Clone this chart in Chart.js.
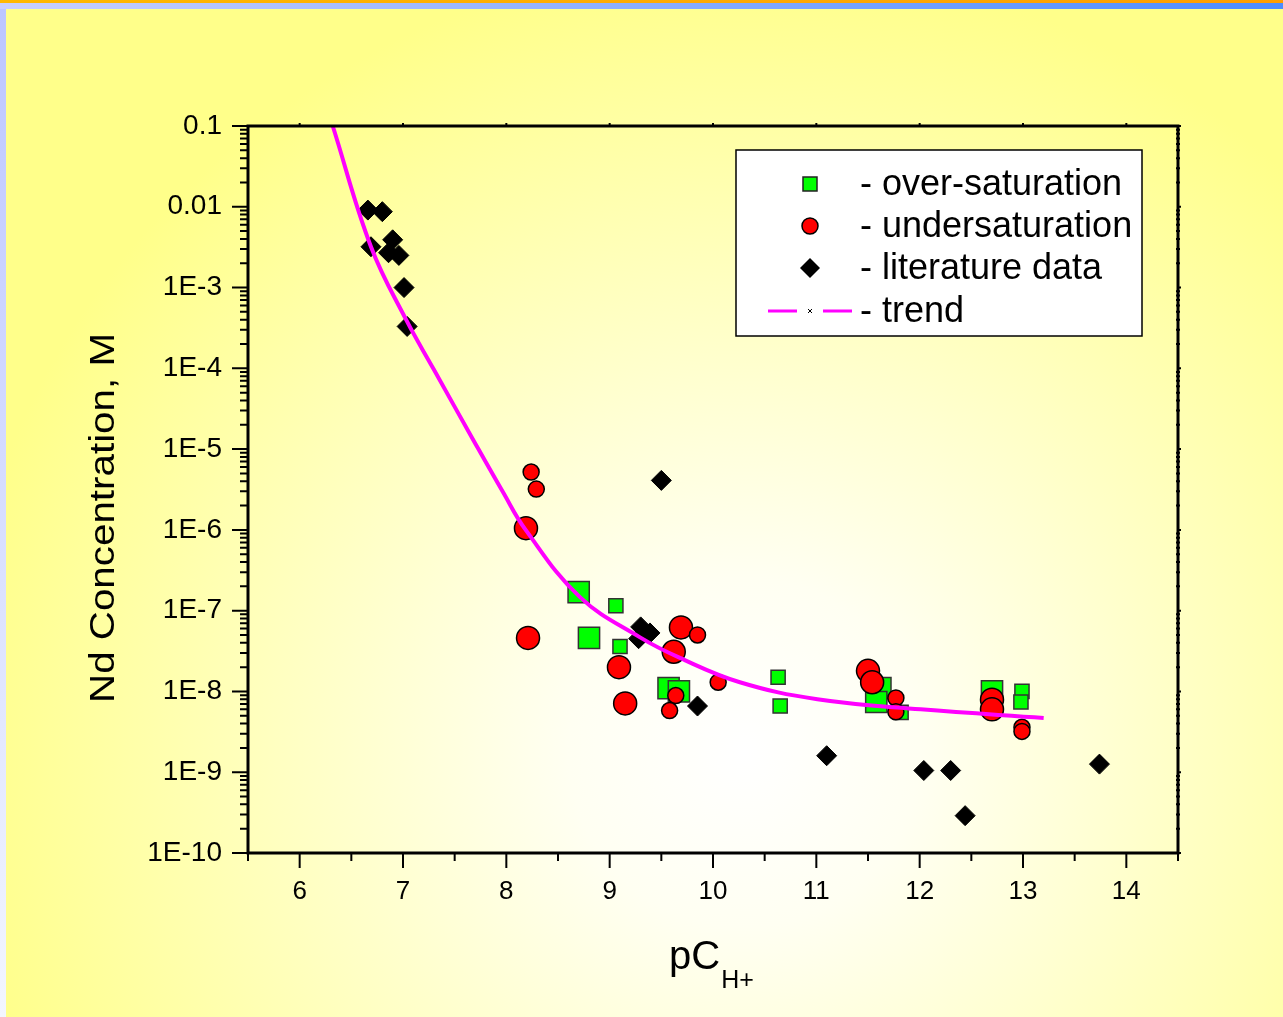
<!DOCTYPE html>
<html>
<head>
<meta charset="utf-8">
<script src="https://cdn.jsdelivr.net/npm/chart.js@4.4.1/dist/chart.umd.min.js"></script>
<style>
    html, body { margin: 0; padding: 0; }
    body {
        width: 1283px; height: 1017px; overflow: hidden; position: relative;
        background: radial-gradient(ellipse 62% 78% at 58% 74%, #ffffff 0%, #fffff2 22%, #ffffc6 55%, #ffff8a 100%);
    }
    #topOrange { position: absolute; left: 0; top: 0; width: 1283px; height: 3px; background: linear-gradient(90deg, #ffb800, #ff9e00); }
    #topBlue { position: absolute; left: 0; top: 3px; width: 1283px; height: 6px; background: linear-gradient(90deg, #c8d0ff, #4c8cff); }
    #leftStrip { position: absolute; left: 0; top: 9px; width: 6px; height: 1008px; background: linear-gradient(180deg, #bcc6ff, #f3f6ff); }
    #wrap { position: absolute; left: 0; top: 0; width: 1283px; height: 1017px; }
</style>
</head>
<body>
<div id="topOrange"></div>
<div id="topBlue"></div>
<div id="leftStrip"></div>
<div id="wrap"><canvas id="ndChart" width="1283" height="1017"></canvas></div>
<script>
    // axis ticks
    const xTickValues = [6, 7, 8, 9, 10, 11, 12, 13, 14];
    const yTickValues = [1e-10, 1e-9, 1e-8, 1e-7, 1e-6, 1e-5, 1e-4, 1e-3, 0.01, 0.1];
    const yTickLabels = ['1E-10', '1E-9', '1E-8', '1E-7', '1E-6', '1E-5', '1E-4', '1E-3', '0.01', '0.1'];

    // over-saturation (small and large markers)
    const overSatX = [9.06, 9.10, 10.63, 10.65, 11.82, 12.99, 12.98];
    const overSatY = [1.15e-7, 3.6e-8, 1.5e-8, 6.6e-9, 5.5e-9, 1.0e-8, 7.4e-9];
    const overSatBigX = [8.70, 8.80, 9.57, 9.67, 11.62, 11.58, 12.70];
    const overSatBigY = [1.7e-7, 4.6e-8, 1.1e-8, 1.0e-8, 1.1e-8, 7.4e-9, 1.0e-8];

    // undersaturation
    const underSatX = [8.24, 8.29, 9.85, 9.64, 9.58, 10.05, 11.77, 11.77, 12.99, 12.99];
    const underSatY = [5.2e-6, 3.2e-6, 5.0e-8, 8.9e-9, 5.8e-9, 1.3e-8, 8.3e-9, 5.6e-9, 3.6e-9, 3.2e-9];
    const underSatBigX = [8.19, 8.21, 9.69, 9.62, 9.09, 9.15, 11.50, 11.54, 12.70, 12.70];
    const underSatBigY = [1.05e-6, 4.6e-8, 6.2e-8, 3.1e-8, 2.0e-8, 7.1e-9, 1.8e-8, 1.3e-8, 7.9e-9, 6.0e-9];

    // literature data
    const litX = [6.66, 6.80, 6.69, 6.90, 6.86, 6.96, 7.01, 7.04, 9.50, 9.30, 9.39, 9.28, 9.85, 11.10, 12.04, 12.30, 12.44, 13.74];
    const litY = [9.1e-3, 8.7e-3, 3.2e-3, 3.9e-3, 2.7e-3, 2.5e-3, 1.0e-3, 3.3e-4, 4.1e-6, 6.3e-8, 5.3e-8, 4.5e-8, 6.6e-9, 1.6e-9, 1.05e-9, 1.05e-9, 2.9e-10, 1.26e-9];

    // trend curve
    const trendX = [6.32, 6.69, 7.03, 7.30, 7.68, 7.97, 8.18, 8.71, 9.29, 9.68, 10.26, 11.01, 12.01, 13.20];
    const trendY = [0.1, 3.2e-3, 4.0e-4, 9.6e-5, 1.3e-5, 2.9e-6, 1.03e-6, 1.48e-7, 4.7e-8, 2.6e-8, 1.3e-8, 8.0e-9, 6.0e-9, 4.7e-9];

    const legendLabels = ['- over-saturation', '- undersaturation', '- literature data', '- trend'];

    function toPoints(xs, ys) {
        return xs.map((x, i) => ({ x: x, y: ys[i] }));
    }

    const FONT = "'Liberation Sans', Arial, sans-serif";

    /* frame, tick marks, axis titles and legend */
    const decorPlugin = {
        id: 'decor',
        afterDraw(chart) {
            const ctx = chart.ctx;
            const a = chart.chartArea;
            const xs = chart.scales.x;
            const ys = chart.scales.y;
            ctx.save();
            ctx.strokeStyle = '#000';
            ctx.lineCap = 'butt';

            // ticks
            ctx.lineWidth = 2;
            ctx.beginPath();
            xTickValues.forEach((v) => {
                const px = xs.getPixelForValue(v);
                ctx.moveTo(px, a.bottom); ctx.lineTo(px, a.bottom + 15);
                ctx.moveTo(px, a.top); ctx.lineTo(px, a.top - 3);
            });
            xTickValues.concat([5]).forEach((v) => {
                const px = xs.getPixelForValue(v + 0.5);
                ctx.moveTo(px, a.bottom); ctx.lineTo(px, a.bottom + 8);
            });
            yTickValues.forEach((v, i) => {
                const py = ys.getPixelForValue(v);
                ctx.moveTo(a.left, py); ctx.lineTo(a.left - 16, py);
                ctx.moveTo(a.right, py); ctx.lineTo(a.right + 3, py);
                if (i < yTickValues.length - 1) {
                    for (let k = 2; k <= 9; k++) {
                        const pm = ys.getPixelForValue(v * k);
                        ctx.moveTo(a.left, pm); ctx.lineTo(a.left - 8, pm);
                        ctx.moveTo(a.right - 2, pm); ctx.lineTo(a.right + 2, pm);
                    }
                }
            });
            ctx.stroke();

            // frame
            ctx.lineWidth = 3;
            ctx.strokeRect(a.left, a.top, a.right - a.left, a.bottom - a.top);

            // y title, stretched like the original export
            ctx.fillStyle = '#000';
            ctx.save();
            ctx.translate(114, 518);
            ctx.rotate(-Math.PI / 2);
            ctx.font = '35px ' + FONT;
            const yTitle = 'Nd Concentration, M';
            const sx = 370 / ctx.measureText(yTitle).width;
            ctx.scale(sx, 1);
            ctx.textAlign = 'center';
            ctx.textBaseline = 'alphabetic';
            ctx.fillText(yTitle, 0, 0);
            ctx.restore();

            // x title pC with subscript H+
            ctx.font = '40px ' + FONT;
            ctx.textAlign = 'left';
            ctx.textBaseline = 'alphabetic';
            ctx.fillText('pC', 669, 969);
            const w = ctx.measureText('pC').width;
            ctx.font = '25px ' + FONT;
            ctx.fillText('H+', 669 + w + 1, 988);

            // legend
            const lx = 736, ly = 150, lw = 406, lh = 186;
            ctx.fillStyle = '#fff';
            ctx.fillRect(lx, ly, lw, lh);
            ctx.lineWidth = 1.5;
            ctx.strokeStyle = '#000';
            ctx.strokeRect(lx, ly, lw, lh);
            const rows = [184, 226, 268, 311];
            const mx = 810;
            // square
            ctx.fillStyle = '#00ff00';
            ctx.strokeStyle = '#222';
            ctx.lineWidth = 1.5;
            ctx.fillRect(mx - 7, rows[0] - 7, 14, 14);
            ctx.strokeRect(mx - 7, rows[0] - 7, 14, 14);
            // circle
            ctx.fillStyle = '#ff0000';
            ctx.strokeStyle = '#000';
            ctx.beginPath();
            ctx.arc(mx, rows[1], 8, 0, Math.PI * 2);
            ctx.fill(); ctx.stroke();
            // diamond
            ctx.fillStyle = '#000';
            ctx.beginPath();
            ctx.moveTo(mx - 10, rows[2]); ctx.lineTo(mx, rows[2] - 10);
            ctx.lineTo(mx + 10, rows[2]); ctx.lineTo(mx, rows[2] + 10);
            ctx.closePath(); ctx.fill();
            // trend sample
            ctx.strokeStyle = '#ff00ff';
            ctx.lineWidth = 3;
            ctx.beginPath();
            ctx.moveTo(768, rows[3]); ctx.lineTo(797, rows[3]);
            ctx.moveTo(823, rows[3]); ctx.lineTo(852, rows[3]);
            ctx.stroke();
            ctx.strokeStyle = '#000';
            ctx.lineWidth = 1;
            ctx.beginPath();
            ctx.moveTo(mx - 2, rows[3] - 2); ctx.lineTo(mx + 2, rows[3] + 2);
            ctx.moveTo(mx + 2, rows[3] - 2); ctx.lineTo(mx - 2, rows[3] + 2);
            ctx.stroke();

            ctx.fillStyle = '#000';
            ctx.font = '36px ' + FONT;
            ctx.textAlign = 'left';
            ctx.textBaseline = 'middle';
            legendLabels.forEach((t, i) => ctx.fillText(t, 860, rows[i] + 1));
            ctx.restore();
        }
    };

    const ctx = document.getElementById('ndChart').getContext('2d');
    const chart = new Chart(ctx, {
        type: 'scatter',
        data: {
            datasets: [{
                label: 'trend',
                data: toPoints(trendX, trendY),
                showLine: true,
                borderColor: '#ff00ff',
                borderWidth: 4,
                pointRadius: 0,
                tension: 0.4,
                fill: false,
                order: 0
            }, {
                label: 'literature data',
                data: toPoints(litX, litY),
                pointStyle: 'rectRot',
                pointRadius: 10,
                backgroundColor: '#000',
                borderColor: '#000',
                borderWidth: 1,
                order: 1
            }, {
                label: 'undersaturation',
                data: toPoints(underSatX, underSatY),
                pointStyle: 'circle',
                pointRadius: 8,
                backgroundColor: '#ff0000',
                borderColor: '#000',
                borderWidth: 1.5,
                order: 2
            }, {
                label: 'undersaturation big',
                data: toPoints(underSatBigX, underSatBigY),
                pointStyle: 'circle',
                pointRadius: 11.5,
                backgroundColor: '#ff0000',
                borderColor: '#000',
                borderWidth: 1.5,
                order: 3
            }, {
                label: 'over-saturation',
                data: toPoints(overSatX, overSatY),
                pointStyle: 'rect',
                pointRadius: 10,
                backgroundColor: '#00ff00',
                borderColor: '#333',
                borderWidth: 1.5,
                order: 4
            }, {
                label: 'over-saturation big',
                data: toPoints(overSatBigX, overSatBigY),
                pointStyle: 'rect',
                pointRadius: 15,
                backgroundColor: '#00ff00',
                borderColor: '#333',
                borderWidth: 1.5,
                order: 5
            }]
        },
        options: {
            responsive: false,
            animation: false,
            devicePixelRatio: 1,
            layout: { padding: { left: 0, right: 105, top: 126, bottom: 0 } },
            plugins: {
                legend: { display: false },
                tooltip: { enabled: false }
            },
            scales: {
                x: {
                    type: 'linear',
                    min: 5.5,
                    max: 14.5,
                    grid: { display: false, drawTicks: false },
                    border: { display: false },
                    ticks: {
                        color: '#000',
                        font: { family: FONT, size: 26 },
                        padding: 23,
                        maxRotation: 0,
                        callback: (v) => String(v)
                    },
                    afterBuildTicks: (s) => { s.ticks = xTickValues.map((v) => ({ value: v })); },
                    afterFit: (s) => { s.height = 164; }
                },
                y: {
                    type: 'logarithmic',
                    min: 1e-10,
                    max: 0.1,
                    grid: { display: false, drawTicks: false },
                    border: { display: false },
                    ticks: {
                        color: '#000',
                        font: { family: FONT, size: 28 },
                        padding: 26,
                        autoSkip: false,
                        callback: (v, i) => yTickLabels[i]
                    },
                    afterBuildTicks: (s) => { s.ticks = yTickValues.map((v) => ({ value: v })); },
                    afterFit: (s) => { s.width = 248; }
                }
            }
        },
        plugins: [decorPlugin]
    });
</script>
</body>
</html>
